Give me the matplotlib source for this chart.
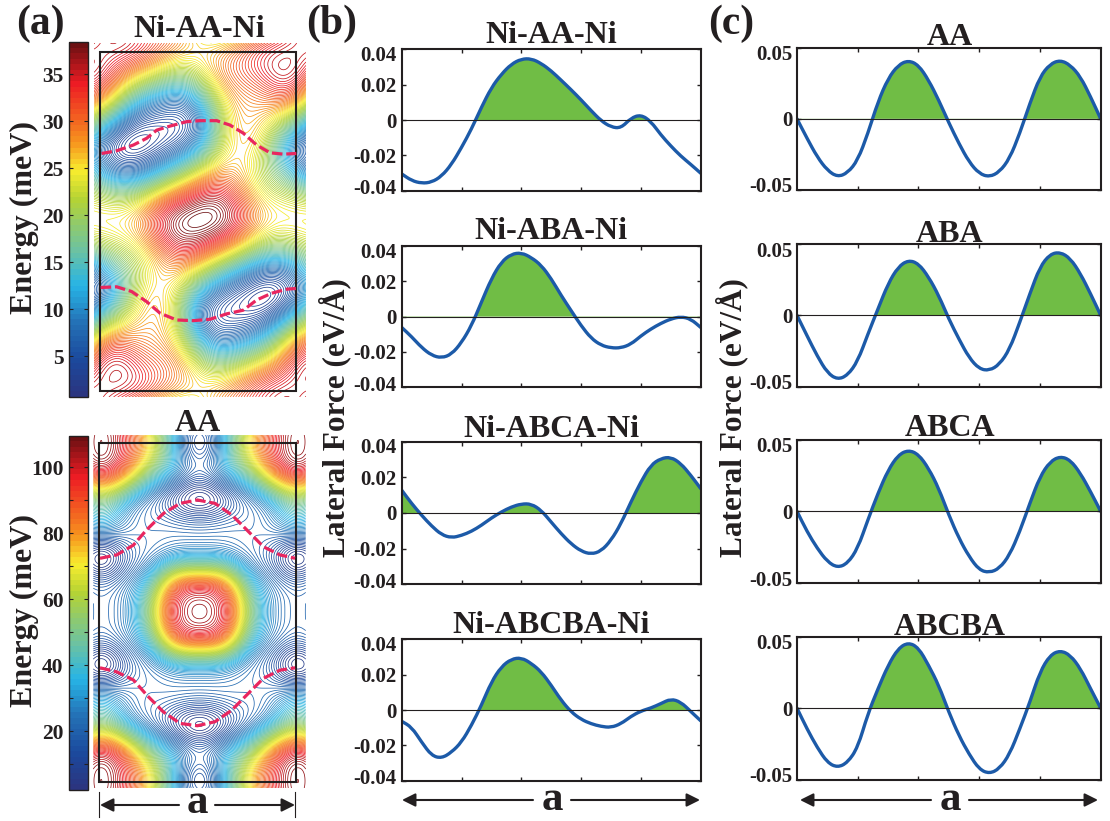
import numpy as np
import matplotlib
matplotlib.use('Agg')
import matplotlib.pyplot as plt
from matplotlib.colors import LinearSegmentedColormap, ListedColormap, Normalize
from matplotlib.cm import ScalarMappable
from matplotlib.patches import Rectangle, PathPatch
from matplotlib.path import Path
from matplotlib.transforms import ScaledTranslation

plt.rcParams['font.family'] = ['Liberation Serif', 'DejaVu Serif']
plt.rcParams['font.weight'] = 'bold'

W, H = 1110, 821
INK = '#231f20'
BLUE = '#1c5aa8'
GREEN = '#70bd45'
PINK = '#e9265f'

# fuerza lateral, 31 puntos a lo largo de a
pos_a = [i / 30 for i in range(31)]

ni_aa_ni = [-0.0305, -0.0343, -0.0358, -0.0352, -0.0318, -0.0251, -0.0156, -0.0051, 0.0072, 0.0183, 0.0259,
            0.0316, 0.0345, 0.0347, 0.032, 0.0278, 0.0225, 0.0171, 0.0114, 0.0053, -0.0004,
            -0.004, -0.0046, 0.0011, 0.003, -0.0008, -0.0084, -0.0147, -0.0204, -0.0251, -0.0301]
ni_aba_ni = [-0.0061, -0.0114, -0.0175, -0.0219, -0.0234, -0.0213, -0.0147, -0.0051, 0.0082, 0.0215, 0.031,
             0.0354, 0.0362, 0.0335, 0.0291, 0.0215, 0.012, 0.0034, -0.0051, -0.0122, -0.0162,
             -0.0177, -0.0177, -0.0156, -0.0109, -0.007, -0.0038, -0.0013, 0.0, -0.0013, -0.0061]
ni_abca_ni = [0.0128, 0.0053, -0.0013, -0.0073, -0.0122, -0.0139, -0.0126, -0.0103, -0.0069, -0.0028, 0.0006,
              0.0034, 0.0051, 0.0051, 0.0015, -0.0051, -0.0116, -0.0173, -0.0214, -0.0231, -0.0214,
              -0.0154, -0.006, 0.0062, 0.0175, 0.0269, 0.0306, 0.0314, 0.0278, 0.0212, 0.0137]
ni_abcba_ni = [-0.0064, -0.0097, -0.0182, -0.0258, -0.0273, -0.0239, -0.0182, -0.0087, 0.0027, 0.0159, 0.0245,
               0.0288, 0.0296, 0.0264, 0.0216, 0.014, 0.0055, -0.0011, -0.0053, -0.0078, -0.0093,
               -0.0099, -0.0078, -0.0036, -0.0006, 0.0011, 0.0036, 0.0063, 0.0045, -0.0008, -0.0061]

aa = [0.0, -0.0138, -0.0268, -0.0362, -0.0408, -0.038, -0.0291, -0.0103, 0.012, 0.0284, 0.0378,
      0.0411, 0.0378, 0.0272, 0.0131, -0.0028, -0.0174, -0.0303, -0.0385, -0.0408, -0.0373,
      -0.0279, -0.0103, 0.0108, 0.0296, 0.0385, 0.0413, 0.0378, 0.0296, 0.0155, 0.0]
aba = [0.0, -0.0144, -0.0285, -0.0403, -0.045, -0.042, -0.0321, -0.0132, 0.0045, 0.0222, 0.034,
       0.0387, 0.0363, 0.0269, 0.0139, -0.0026, -0.0167, -0.0297, -0.0375, -0.0387, -0.0344,
       -0.0238, -0.005, 0.0151, 0.034, 0.0429, 0.0443, 0.0399, 0.0292, 0.0151, 0.0]
abca = [0.0, -0.0142, -0.0258, -0.0351, -0.0393, -0.0363, -0.0258, -0.006, 0.0126, 0.0288, 0.0393,
        0.0428, 0.0398, 0.03, 0.016, -0.0026, -0.0188, -0.0316, -0.0409, -0.0428, -0.0398,
        -0.0305, -0.0142, 0.0056, 0.0242, 0.0347, 0.0384, 0.0358, 0.0265, 0.0137, 0.0]
abcba = [0.0, -0.0146, -0.0275, -0.038, -0.0415, -0.038, -0.0275, -0.004, 0.0136, 0.03, 0.0418,
         0.046, 0.0423, 0.03, 0.016, -0.0028, -0.0192, -0.0322, -0.0427, -0.0458, -0.0423,
         -0.0322, -0.0146, 0.0042, 0.0254, 0.0371, 0.0404, 0.0371, 0.0277, 0.0136, 0.0]

titulos_b = ['Ni-AA-Ni', 'Ni-ABA-Ni', 'Ni-ABCA-Ni', 'Ni-ABCBA-Ni']
titulos_c = ['AA', 'ABA', 'ABCA', 'ABCBA']
curvas_b = [ni_aa_ni, ni_aba_ni, ni_abca_ni, ni_abcba_ni]
curvas_c = [aa, aba, abca, abcba]

# energia (meV) leida por color en una malla gruesa, fila superior primero
energia_ni = [
    [33, 35, 34, 31, 29, 27, 26, 27, 28, 30, 33, 37, 35],
    [36, 33, 31, 28, 26, 22, 24, 27, 31, 34, 37, 38, 35],
    [33, 30, 26, 22, 18, 17, 20, 26, 30, 32, 34, 35, 31],
    [27, 22, 15, 10, 8, 9, 13, 22, 27, 29, 29, 28, 25],
    [16, 11, 7, 5, 4, 5, 9, 18, 25, 26, 25, 22, 16],
    [9, 5, 2.5, 3, 5, 7, 12, 20, 25, 25, 20, 15, 9],
    [9, 6, 5, 7, 9, 13, 19, 24, 27, 25, 19, 14, 9],
    [15, 12, 12, 15, 19, 24, 28, 30, 29, 25, 20, 18, 15],
    [23, 20, 21, 24, 29, 33, 36, 36, 32, 27, 24, 23, 23],
    [25, 24, 27, 32, 36, 38, 39, 38, 35, 31, 26, 24, 25],
    [23, 23, 24, 27, 32, 36, 36, 33, 29, 24, 21, 20, 23],
    [15, 18, 20, 25, 29, 30, 28, 24, 19, 15, 12, 12, 15],
    [9, 14, 19, 25, 27, 24, 19, 13, 9, 7, 5, 6, 9],
    [9, 15, 20, 25, 25, 20, 12, 7, 5, 3, 2.5, 5, 9],
    [16, 22, 25, 26, 25, 18, 9, 5, 4, 5, 7, 11, 16],
    [25, 28, 29, 29, 27, 22, 13, 9, 8, 10, 15, 22, 27],
    [31, 35, 34, 32, 30, 26, 20, 17, 18, 22, 26, 30, 33],
    [35, 38, 37, 34, 31, 27, 24, 22, 26, 28, 31, 33, 36],
    [35, 37, 33, 30, 28, 27, 26, 27, 29, 31, 34, 35, 33],
]
# solo un cuadrante, la superficie AA es simetrica
energia_aa_cuadrante = [
    [105, 103, 92, 75, 50, 28, 14],
    [108, 104, 90, 72, 48, 28, 15],
    [96, 92, 78, 58, 38, 24, 16],
    [72, 68, 55, 38, 25, 15, 9],
    [48, 42, 32, 22, 14, 8, 4],
    [35, 30, 26, 22, 20, 18, 17],
    [14, 16, 19, 21, 24, 25, 25],
    [5, 9, 16, 24, 32, 38, 40],
    [12, 15, 22, 34, 58, 72, 78],
    [19, 21, 29, 46, 76, 94, 100],
    [22, 23, 30, 50, 82, 100, 108],
]

# camino de minima energia en fracciones de la celda
ni_arriba_u = [.008, .085, .17, .238, .289, .357, .441, .509, .594, .662, .73, .798, .866, .934, 1.0]
ni_arriba_v = [.701, .709, .726, .746, .77, .782, .795, .798, .798, .785, .761, .726, .703, .699, .701]
ni_abajo_u = [.003, .085, .161, .238, .306, .39, .475, .56, .645, .73, .798, .874, .951, .998]
ni_abajo_v = [.305, .307, .293, .263, .229, .209, .207, .211, .227, .238, .268, .288, .30, .302]
aa_arriba_u = [.005, .09, .175, .242, .327, .412, .5, .59, .675, .751, .836, .92, .997]
aa_arriba_v = [.659, .669, .698, .743, .791, .821, .831, .821, .787, .743, .693, .669, .659]
aa_abajo_u = [.005, .09, .175, .242, .327, .412, .5, .59, .675, .76, .836, .92, .997]
aa_abajo_v = [.336, .324, .30, .256, .206, .172, .165, .177, .211, .261, .305, .329, .336]

# mapa tipo jet con colores CMYK, en 64 pasos como la barra original
base = LinearSegmentedColormap.from_list('jet_cmyk', [
    (0.00, '#2b3580'), (0.10, '#1b4a9e'), (0.20, '#2470b5'), (0.31, '#27b4e6'),
    (0.41, '#6cc2a2'), (0.56, '#b5d334'), (0.64, '#f8ec2e'), (0.72, '#f7941e'),
    (0.89, '#ed1c24'), (1.00, '#6d1012')])
paleta = ListedColormap(base(np.linspace(0, 1, 64)))


def caja(fig, x0, y0, x1, y1):
    return fig.add_axes([x0 / W, 1 - y1 / H, (x1 - x0) / W, (y1 - y0) / H])


def texto(fig, x, y, s, size, **kw):
    kw.setdefault('ha', 'center')
    kw.setdefault('va', 'baseline')
    fig.text(x / W, 1 - y / H, s, fontsize=size, fontweight='bold', color=INK, **kw)


def base_fourier(u, v, modos):
    cols = []
    for m, n in modos:
        fase = 2 * np.pi * (m * u + n * v)
        cols.append(np.cos(fase))
        if (m, n) != (0, 0):
            cols.append(np.sin(fase))
    return np.stack(cols, axis=-1)


def superficie(z, xlim, ylim, m_max, n_max):
    # la superficie es periodica en la celda: ajuste de los valores leidos
    z = np.array(z, dtype=float)[::-1]
    xx, yy = np.meshgrid(np.linspace(*xlim, z.shape[1]), np.linspace(*ylim, z.shape[0]))
    modos = [(m, n) for m in range(m_max + 1) for n in range(-n_max, n_max + 1) if m > 0 or n >= 0]
    coef = np.linalg.lstsq(base_fourier(xx.ravel(), yy.ravel(), modos), z.ravel(), rcond=None)[0]
    fx, fy = np.meshgrid(np.linspace(*xlim, 400), np.linspace(*ylim, 500))
    return fx, fy, base_fourier(fx, fy, modos) @ coef


def panel_contorno(fig, ext, marco, z, rango, n_niveles, caminos, orden):
    # ext: zona dibujada, marco: rectangulo negro (pixeles)
    ax = caja(fig, *ext)
    ancho = marco[2] - marco[0]
    alto = marco[3] - marco[1]
    xlim = ((ext[0] - marco[0]) / ancho, (ext[2] - marco[0]) / ancho)
    ylim = ((marco[3] - ext[3]) / alto, (marco[3] - ext[1]) / alto)
    fx, fy, fz = superficie(z, xlim, ylim, *orden)
    norm = Normalize(*rango)
    ax.contour(fx, fy, fz, levels=np.linspace(rango[0], rango[1], n_niveles),
               cmap=paleta, norm=norm, linewidths=0.55)
    ax.set_xlim(xlim)
    ax.set_ylim(ylim)
    ax.axis('off')
    ax.add_patch(Rectangle((0, 0), 1, 1, fill=False, ec=INK, lw=1.5, zorder=5))
    for u, v in caminos:
        ax.plot(u, v, color=PINK, lw=2.3, ls=(0, (3.3, 1.2)), zorder=6)
    return norm


def barra(fig, ext, norm, mayores, menores):
    cax = caja(fig, *ext)
    cb = fig.colorbar(ScalarMappable(norm=norm, cmap=paleta), cax=cax)
    cb.outline.set_linewidth(1.0)
    cb.outline.set_edgecolor(INK)
    cb.set_ticks(mayores)
    cb.set_ticks(menores, minor=True)
    cax.yaxis.set_ticks_position('left')
    cax.tick_params(which='both', direction='in', length=3, width=0.8, left=True, right=True,
                    colors=INK, pad=4, labelsize=15.5)
    for lab in cax.get_yticklabels():
        lab.set_fontweight('bold')


def trazo_suave(x, y):
    # curva cuadratica con los valores leidos como puntos de control
    x = np.asarray(x)
    y = np.asarray(y)
    medx = (x[:-1] + x[1:]) / 2
    medy = (y[:-1] + y[1:]) / 2
    verts = [(x[0], y[0]), (medx[0], medy[0])]
    codes = [Path.MOVETO, Path.LINETO]
    for i in range(1, len(x) - 1):
        verts += [(x[i], y[i]), (medx[i], medy[i])]
        codes += [Path.CURVE3, Path.CURVE3]
    verts.append((x[-1], y[-1]))
    codes.append(Path.LINETO)
    return verts, codes


def panel_fuerza(fig, ext, y, limite, ticks, etiquetas, desplaza):
    ax = caja(fig, *ext)
    verts, codes = trazo_suave(pos_a, y)
    # relleno verde solo sobre el cero
    relleno = PathPatch(Path(verts + [(1, 0), (0, 0), (0, 0)], codes + [Path.LINETO, Path.LINETO, Path.CLOSEPOLY]),
                        fc=GREEN, ec='none')
    ax.add_patch(relleno)
    relleno.set_clip_path(Rectangle((0, 0), 1, limite, transform=ax.transData))
    ax.axhline(0, color=INK, lw=0.8)
    ax.add_patch(PathPatch(Path(verts, codes), fill=False, ec=BLUE, lw=2.4, capstyle='round', joinstyle='round'))
    ax.set_xlim(0, 1)
    ax.set_ylim(-limite, limite)
    ax.set_xticks([0.2, 0.4, 0.6, 0.8])
    ax.set_xticklabels([])
    ax.set_yticks(ticks)
    ax.set_yticklabels(etiquetas)
    ax.tick_params(direction='in', length=3, width=1, top=True, right=True, pad=3.5,
                   labelsize=15, colors=INK)
    for lab in ax.get_yticklabels():
        lab.set_fontweight('bold')
    # las etiquetas extremas quedan hacia adentro, como en MATLAB
    etqs = ax.get_yticklabels()
    etqs[0].set_transform(etqs[0].get_transform() + ScaledTranslation(0, desplaza / 100, fig.dpi_scale_trans))
    etqs[-1].set_transform(etqs[-1].get_transform() + ScaledTranslation(0, -desplaza / 100, fig.dpi_scale_trans))
    for s in ax.spines.values():
        s.set_linewidth(1.5)
        s.set_color(INK)
    return ax


fig = plt.figure(figsize=(W / 100, H / 100), dpi=100)

# (a) superficies de energia
norm_ni = panel_contorno(fig, (94, 43, 306, 397), (100, 52.3, 296.3, 390.7), energia_ni, (0.7, 38.4), 90,
                         [(ni_arriba_u, ni_arriba_v), (ni_abajo_u, ni_abajo_v)], (3, 4))
barra(fig, (69.3, 42.3, 88, 396.7), norm_ni, [5, 10, 15, 20, 25, 30, 35], [])

cuadrante = np.array(energia_aa_cuadrante, dtype=float)
medio = np.hstack([cuadrante, cuadrante[:, -2::-1]])
energia_aa = np.vstack([medio, medio[-2::-1]])
norm_aa = panel_contorno(fig, (93.3, 435, 305.7, 788), (99, 442.7, 295.7, 781.7), energia_aa, (2.1, 109.6), 90,
                         [(aa_arriba_u, aa_arriba_v), (aa_abajo_u, aa_abajo_v)], (4, 6))
barra(fig, (69.3, 435.7, 88, 790), norm_aa, [20, 40, 60, 80, 100], [10, 30, 50, 70, 90])

# (b) y (c) fuerza lateral
filas_b = [(49.3, 190.7), (246, 387.3), (441.7, 584.3), (639.3, 780.7)]
filas_c = [(47.7, 190), (244, 386.7), (439.7, 583), (636.7, 779.7)]
base_b = [42.7, 239.3, 437, 632.7]
base_c = [45, 241.7, 436, 635]

for fila, y, titulo, yt in zip(filas_b, curvas_b, titulos_b, base_b):
    panel_fuerza(fig, (401.7, fila[0], 700.7, fila[1]), y, 0.04,
                 [-0.04, -0.02, 0, 0.02, 0.04], ['-0.04', '-0.02', '0', '0.02', '0.04'], 4)
    texto(fig, 551, yt, titulo, 23)

for fila, y, titulo, yt in zip(filas_c, curvas_c, titulos_c, base_c):
    panel_fuerza(fig, (797, fila[0], 1100.7, fila[1]), y, 0.05,
                 [-0.05, 0, 0.05], ['-0.05', '0', '0.05'], 5)
    texto(fig, 950, yt, titulo, 23)

texto(fig, 199.5, 36.7, 'Ni-AA-Ni', 23)
texto(fig, 198, 431, 'AA', 23)

texto(fig, 40, 34, '(a)', 30)
texto(fig, 332, 34, '(b)', 30)
texto(fig, 731, 34, '(c)', 30)

texto(fig, 24, 217, 'Energy (meV)', 23, rotation=90, va='center')
texto(fig, 24, 610, 'Energy (meV)', 23, rotation=90, va='center')
texto(fig, 335, 418, 'Lateral Force (eV/Å)', 22.5, rotation=90, va='center')
texto(fig, 732, 418, 'Lateral Force (eV/Å)', 22.5, rotation=90, va='center')

# flechas de la celda a
capa = fig.add_axes([0, 0, 1, 1], facecolor='none')
capa.set_xlim(0, W)
capa.set_ylim(H, 0)
capa.axis('off')
estilo = dict(arrowstyle='-|>', color=INK, lw=1.5, mutation_scale=20, shrinkA=0, shrinkB=0)
for x0, x1, y, xa, ya, g in [(100, 295, 805, 197, 813, 18), (402, 700, 800, 552, 810, 19), (800, 1098, 800, 950, 810, 19)]:
    capa.annotate('', xy=(x0, y), xytext=(xa - g, y), arrowprops=estilo)
    capa.annotate('', xy=(x1, y), xytext=(xa + g, y), arrowprops=estilo)
    texto(fig, xa, ya, 'a', 31)
capa.plot([99, 99], [792, 817], color=INK, lw=0.8)
capa.plot([295, 295], [792, 817], color=INK, lw=0.8)

fig.savefig('out.png', dpi=100, facecolor='white')
